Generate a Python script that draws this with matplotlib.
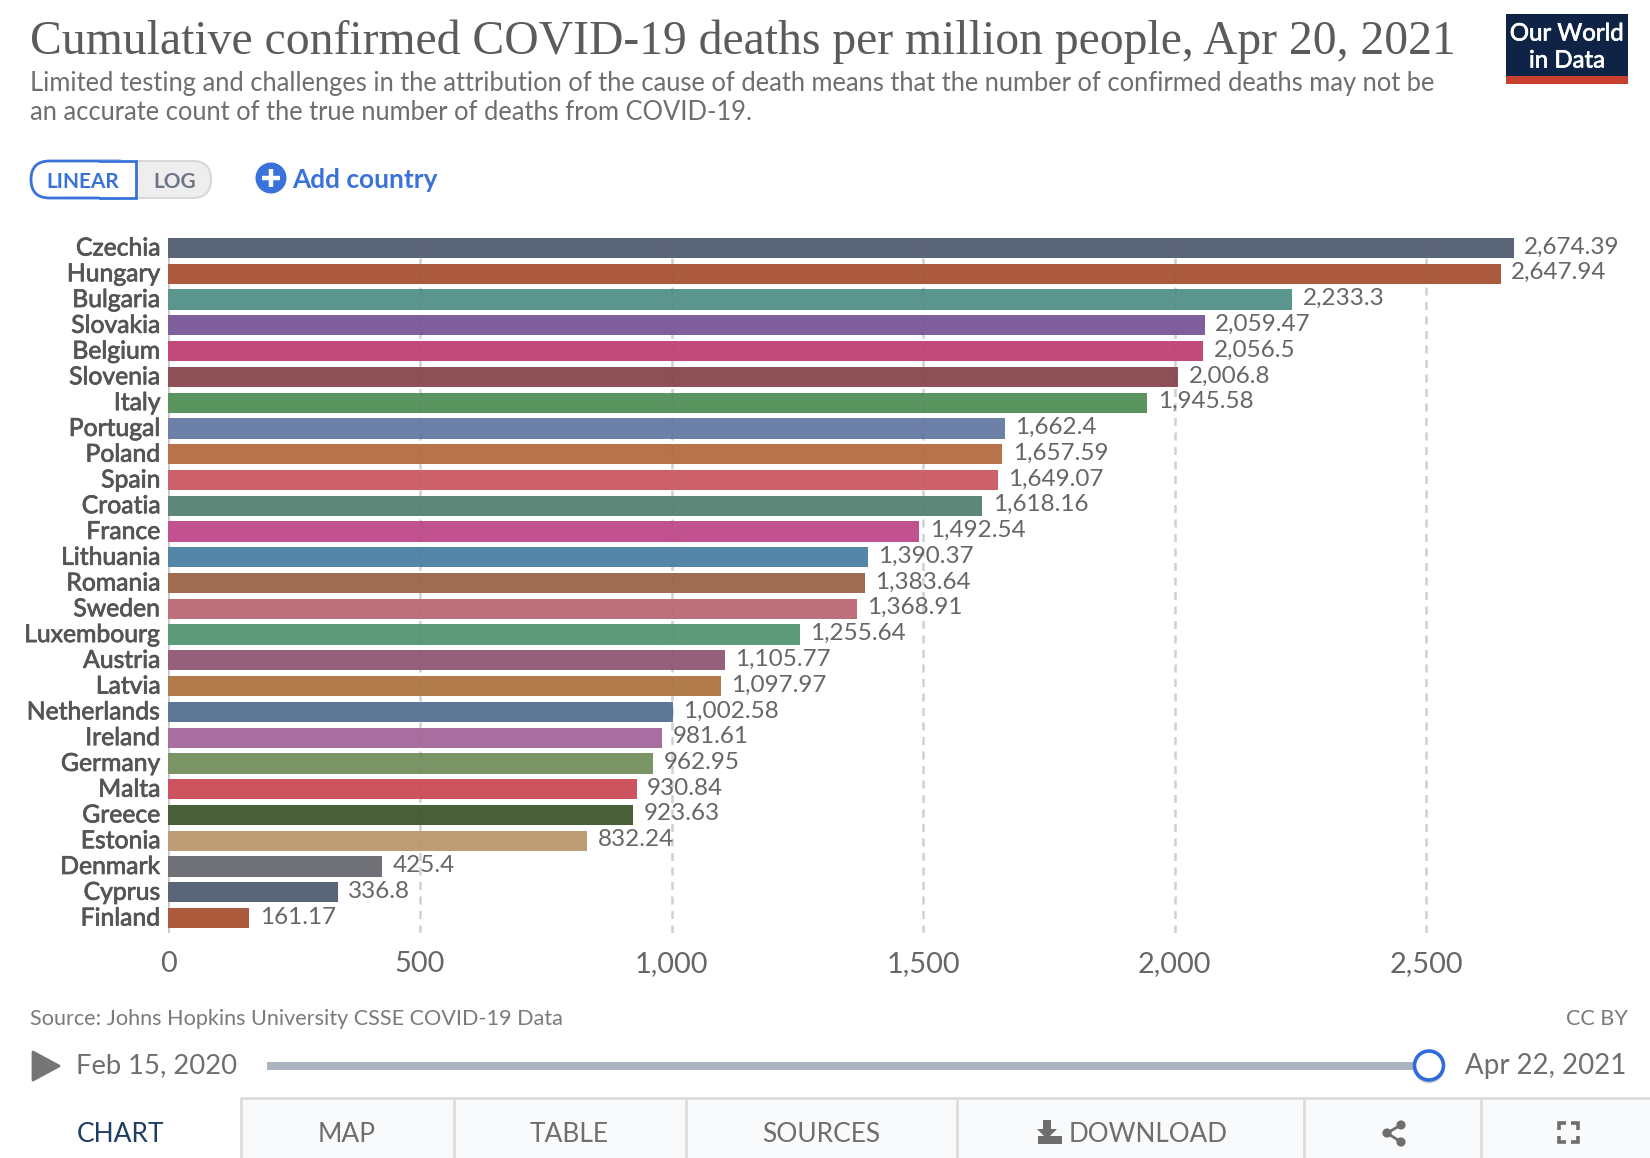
import matplotlib
matplotlib.use("Agg")
import matplotlib.pyplot as plt
import matplotlib.patheffects as pe
from matplotlib.patches import Rectangle, FancyBboxPatch, Circle, Polygon

countries = ["Czechia","Hungary","Bulgaria","Slovakia","Belgium","Slovenia","Italy","Portugal","Poland","Spain",
             "Croatia","France","Lithuania","Romania","Sweden","Luxembourg","Austria","Latvia","Netherlands",
             "Ireland","Germany","Malta","Greece","Estonia","Denmark","Cyprus","Finland"]
values = [2674.39,2647.94,2233.3,2059.47,2056.5,2006.8,1945.58,1662.4,1657.59,1649.07,1618.16,1492.54,1390.37,
          1383.64,1368.91,1255.64,1105.77,1097.97,1002.58,981.61,962.95,930.84,923.63,832.24,425.4,336.8,161.17]
value_labels = ["2,674.39","2,647.94","2,233.3","2,059.47","2,056.5","2,006.8","1,945.58","1,662.4","1,657.59",
                "1,649.07","1,618.16","1,492.54","1,390.37","1,383.64","1,368.91","1,255.64","1,105.77","1,097.97",
                "1,002.58","981.61","962.95","930.84","923.63","832.24","425.4","336.8","161.17"]
bar_colors = ["#5b6578","#ac5a3e","#5a958e","#7f5e9c","#c24a7a","#8c5056","#5a945f","#6d80a8","#b9734a","#cc616b",
              "#5e877a","#c2528f","#5486a8","#9e6c50","#bd707c","#5d9a79","#94607a","#b27b4b","#5d7897",
              "#a86e9f","#7a9466","#cd545e","#485f37","#bd9d75","#707176","#5b6578","#ac5a3c"]
x_ticks = [0, 500, 1000, 1500, 2000, 2500]
x_tick_labels = ["0", "500", "1,000", "1,500", "2,000", "2,500"]
tabs = ["MAP", "TABLE", "SOURCES"]

W, H = 1650, 1158
fig = plt.figure(figsize=(W/100, H/100), dpi=100, facecolor="white")
plt.rcParams["font.family"] = ["Lato", "DejaVu Sans"]

# full-figure pixel canvas for page furniture
ui = fig.add_axes([0, 0, 1, 1], zorder=3)
ui.set_xlim(0, W); ui.set_ylim(H, 0); ui.axis("off"); ui.patch.set_alpha(0)

TXT = "#5b5b5b"
ui.text(30, 42, "Cumulative confirmed COVID-19 deaths per million people, Apr 20, 2021",
        family="Liberation Serif", fontsize=34.3, color=TXT, va="center", ha="left")
ui.text(30, 83, "Limited testing and challenges in the attribution of the cause of death means that the number of confirmed deaths may not be",
        fontsize=18.4, color="#6e6e6e", va="center")
ui.text(30, 113, "an accurate count of the true number of deaths from COVID-19.",
        fontsize=18.4, color="#6e6e6e", va="center")

# logo
heavy = [pe.withStroke(linewidth=0.5, foreground="white")]
ui.add_patch(Rectangle((1506, 14), 122, 62, fc="#0e2345", ec="none"))
ui.add_patch(Rectangle((1506, 76), 122, 8, fc="#c83f30", ec="none"))
ui.text(1567, 34, "Our World", color="white", fontsize=17.3, ha="center", va="center", path_effects=heavy)
ui.text(1567, 61, "in Data", color="white", fontsize=17.3, ha="center", va="center", path_effects=heavy)

# linear / log toggle
ui.add_patch(FancyBboxPatch((50, 161), 161, 37, boxstyle="round,pad=0,rounding_size=18.5",
                            fc="#eeeeee", ec="#d8d8d8", lw=1.5))
ui.add_patch(FancyBboxPatch((31, 161), 105, 37, boxstyle="round,pad=0,rounding_size=18.5",
                            fc="white", ec="#3a72db", lw=2))
ui.add_patch(Rectangle((100, 160), 36, 39, fc="white", ec="none"))
ui.plot([100, 136, 136, 100], [161, 161, 198, 198], color="#3a72db", lw=2, solid_joinstyle="miter")
ui.text(83, 182, "LINEAR", color="#3a72db", fontsize=15, fontweight="bold", ha="center", va="center")
ui.text(175, 182, "LOG", color="#6e7585", fontsize=15, fontweight="bold", ha="center", va="center")

# add country
ui.add_patch(Circle((271, 178), 15.5, fc="#3a72db", ec="none"))
ui.plot([262, 280], [178, 178], color="white", lw=3.2, solid_capstyle="butt")
ui.plot([271, 271], [169, 187], color="white", lw=3.2, solid_capstyle="butt")
ui.text(292, 180, "Add country", color="#3a72db", fontsize=18.9, fontweight="bold", va="center")

# main chart: 0.5031 px per unit, 25.77 px per row
px_per_unit = 0.5031
pitch = 25.77
left, right, top, bottom = 168.4, 1640, 238, 933
ax = fig.add_axes([left/W, 1-bottom/H, (right-left)/W, (bottom-top)/H], zorder=2)
ax.patch.set_alpha(0)
ax.set_xlim(0, (right-left)/px_per_unit)
ax.set_ylim((bottom-248)/pitch, (top-248)/pitch)
positions = list(range(len(countries)))
ax.barh(positions, values, height=0.785, color=bar_colors, zorder=2)
for x in x_ticks[1:]:
    ax.axvline(x, color="#d6d6d6", lw=1.8, dashes=(3.2, 2.6), zorder=1)
    ax.axvline(x, color="#000000", alpha=0.025, lw=1.8, dashes=(3.2, 2.6), zorder=3)
ax.axvline(0, color="#c8c8c8", lw=2, zorder=1)
for s in ax.spines.values():
    s.set_visible(False)
ax.set_yticks(positions)
ax.set_yticklabels(countries, fontsize=17.8, color="#555555", va="center",
                   path_effects=[pe.withStroke(linewidth=0.55, foreground="#555555")])
ax.tick_params(axis="y", length=0, pad=5.7)
ax.set_xticks(x_ticks)
ax.set_xticklabels(x_tick_labels, fontsize=20.8, color="#666666")
ax.tick_params(axis="x", length=0, pad=13)
for p, v, lab in zip(positions, values, value_labels):
    ax.annotate(lab, (v, p), xytext=(7.5, 0.7), textcoords="offset points", va="center",
                fontsize=17.45, color="#666666", zorder=4)

# footer
ui.text(30, 1019, "Source: Johns Hopkins University CSSE COVID-19 Data", fontsize=15.6, color="#7a7a7a", va="center")
ui.text(1628, 1019, "CC BY", fontsize=15.6, color="#7a7a7a", va="center", ha="right")

# timeline
ui.add_patch(Polygon([(33, 1052), (33, 1080), (59, 1066)], closed=True, fc="#757575", ec="#757575", lw=2, joinstyle="round"))
ui.text(76, 1066, "Feb 15, 2020", fontsize=19.7, color="#6e6e6e", va="center")
ui.add_patch(Rectangle((267, 1062), 1162, 8, fc="#adb4bf", ec="none"))
ui.add_patch(Circle((1429, 1068), 15.5, fc="#888888", ec="none", alpha=0.35))
ui.add_patch(Circle((1429, 1065.5), 14.5, fc="white", ec="#2f6bdc", lw=2.6))
ui.text(1626, 1066, "Apr 22, 2021", fontsize=19.9, color="#6e6e6e", va="center", ha="right")

# tab bar
TAB = "#f9fafc"
LINE = "#dcdcdc"
ui.add_patch(Rectangle((241, 1098), W-241, 60, fc=TAB, ec="none"))
ui.plot([241, 241, W], [H, 1098, 1098], color=LINE, lw=2)
for x in [454, 686, 957, 1304, 1481]:
    ui.plot([x, x], [1098, H], color=LINE, lw=2)
ui.text(120, 1134.5, "CHART", fontsize=19, color="#1d3d63", ha="center", va="center")
for t, cx in zip(tabs, [347, 569, 821]):
    ui.text(cx, 1134.5, t, fontsize=19, color="#6e6e6e", ha="center", va="center")
ui.text(1148, 1134.5, "DOWNLOAD", fontsize=18.7, color="#6e6e6e", ha="center", va="center")
# download icon
ui.add_patch(Polygon([(1043, 1120), (1051, 1120), (1051, 1129), (1057, 1129), (1047, 1139), (1037, 1129), (1043, 1129)],
                     closed=True, fc="#6e6e6e", ec="none"))
ui.add_patch(Rectangle((1038, 1136), 24, 8, fc="#6e6e6e", ec="none"))
# share icon
for (cx, cy) in [(1401, 1125), (1387, 1133), (1401, 1142)]:
    ui.add_patch(Circle((cx, cy), 4.6, fc="#6e6e6e", ec="none"))
ui.plot([1401, 1387, 1401], [1125, 1133, 1142], color="#6e6e6e", lw=2)
# fullscreen icon
for xs, ys in [([1559, 1559, 1566], [1130, 1123, 1123]), ([1571, 1578, 1578], [1123, 1123, 1130]),
               ([1559, 1559, 1566], [1136, 1142, 1142]), ([1571, 1578, 1578], [1142, 1142, 1136])]:
    ui.plot(xs, ys, color="#6e6e6e", lw=2.6, solid_joinstyle="miter", solid_capstyle="butt")

fig.savefig("out.png", dpi=100, facecolor="white")
